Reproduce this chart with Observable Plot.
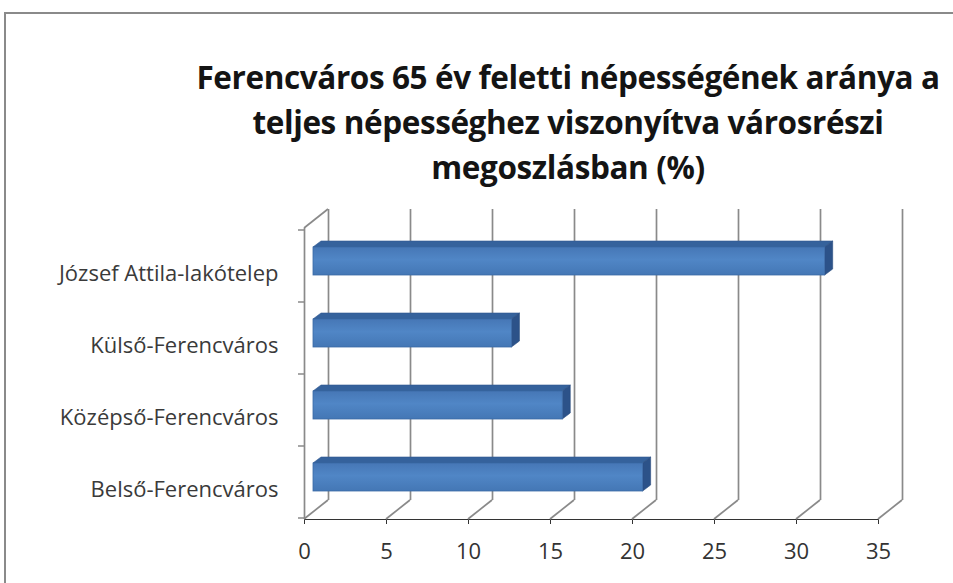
<!DOCTYPE html>
<html>
<head>
<meta charset="utf-8">
<script src="https://cdn.jsdelivr.net/npm/d3@7"></script>
<script src="https://cdn.jsdelivr.net/npm/@observablehq/plot@0.6"></script>
<style>
  html, body { margin: 0; padding: 0; background: #fff; }
  body { width: 953px; height: 583px; overflow: hidden; position: relative; font-family: "Open Sans", sans-serif; }
  #frame { position: absolute; left: 4px; top: 12px; width: 1000px; height: 700px;
           border-left: 2px solid #8a8a8a; border-top: 2px solid #8a8a8a; box-sizing: border-box; }
  #title { position: absolute; left: 168px; top: 54px; width: 800px; text-align: center;
           font-weight: bold; font-size: 31.5px; line-height: 45px; color: #141414; letter-spacing: -0.4px; }
  #chart { position: absolute; left: 0; top: 200px; }
</style>
</head>
<body>
<div id="frame"></div>
<div id="title"></div>
<div id="chart"></div>
<script>
// ---- data ----
const titleLines = [
  "Ferencváros 65 év feletti népességének aránya a",
  "teljes népességhez viszonyítva városrészi",
  "megoszlásban (%)"
];
const categories = ["József Attila-lakótelep", "Külső-Ferencváros", "Középső-Ferencváros", "Belső-Ferencváros"];
const values = [31.2, 12.1, 15.2, 20.1];
const xTicks = [0, 5, 10, 15, 20, 25, 30, 35];

document.getElementById("title").innerHTML = titleLines.map(t => `<div>${t}</div>`).join("");

const data = categories.map((c, i) => ({cat: c, value: values[i]}));

// 3D look offsets (px)
const DX = 24, DY = -19;   // wall depth
const BDX = 9, BDY = -5;   // bar depth position
const TDX = 8, TDY = -6;   // bar thickness
const INSET = 22;
const gridColor = "#8a8a8a";

function walls(index, scales, values, dims) {
  const {x, y} = scales;
  const g = d3.create("svg:g");
  const yb = dims.height - dims.marginBottom;
  const yt = dims.marginTop;
  for (const t of xTicks) {
    g.append("line").attr("x1", x(t)).attr("y1", yb).attr("x2", x(t) + DX).attr("y2", yb + DY)
      .attr("stroke", gridColor).attr("stroke-width", 1.7);
  }
  g.append("line").attr("x1", x(0)).attr("y1", yt).attr("x2", x(0) + DX).attr("y2", yt + DY)
    .attr("stroke", gridColor).attr("stroke-width", 1.7);
  const bw = y.bandwidth ? y.bandwidth() : 0;
  const bounds = categories.map(c => y(c)).concat([y(categories[categories.length - 1]) + bw]);
  for (const b of bounds) {
    g.append("line").attr("x1", x(0) - 6).attr("x2", x(0)).attr("y1", b).attr("y2", b)
      .attr("stroke", gridColor).attr("stroke-width", 1.5);
  }
  return g.node();
}

function barFaces(index, scales, values, dims) {
  const {x, y} = scales;
  const bw = y.bandwidth();
  const g = d3.create("svg:g");
  const defs = g.append("defs");
  const grad = defs.append("linearGradient").attr("id", "frontGrad").attr("x1", 0).attr("y1", 0).attr("x2", 0).attr("y2", 1);
  grad.append("stop").attr("offset", "0%").attr("stop-color", "#4677b6");
  grad.append("stop").attr("offset", "45%").attr("stop-color", "#5086c6");
  grad.append("stop").attr("offset", "100%").attr("stop-color", "#4477b5");
  for (const d of data) {
    const x0 = x(0) + BDX, x1 = x(d.value) + BDX;
    const top = y(d.cat) + INSET + BDY, bot = y(d.cat) + bw - INSET + BDY;
    g.append("polygon")
      .attr("points", [[x0, top], [x0 + TDX, top + TDY], [x1 + TDX, top + TDY], [x1, top]].map(p => p.join(",")).join(" "))
      .attr("fill", "#35629c").attr("stroke", "#2f5890").attr("stroke-width", 0.6);
    g.append("polygon")
      .attr("points", [[x1, top], [x1 + TDX, top + TDY], [x1 + TDX, bot + TDY], [x1, bot]].map(p => p.join(",")).join(" "))
      .attr("fill", "#2c5289").attr("stroke", "#284b7d").attr("stroke-width", 0.6);
  }
  return g.node();
}

const chart = Plot.plot({
  width: 953,
  height: 383,
  marginLeft: 304,
  marginRight: 75,
  marginTop: 28,
  marginBottom: 64,
  style: {fontFamily: "'Open Sans', sans-serif", fontSize: "22px", color: "#333", background: "transparent", overflow: "visible"},
  x: {domain: [0, 35], ticks: xTicks, tickSize: 5, tickPadding: 19, line: true, label: null},
  y: {domain: categories, padding: 0, axis: null},
  marks: [
    Plot.ruleX(xTicks, {x: d => d, dx: DX, dy: DY, stroke: gridColor, strokeWidth: 1.7}),
    walls,
    Plot.ruleX([0], {stroke: gridColor, strokeWidth: 1.7}),
    barFaces,
    Plot.barX(data, {x: "value", y: "cat", dx: BDX, dy: BDY, insetTop: INSET, insetBottom: INSET,
                     fill: "url(#frontGrad)", stroke: "#3b6aa6", strokeWidth: 0.8}),
    Plot.text(data, {x: () => 0, y: "cat", text: "cat", textAnchor: "end", dx: -26, dy: 7,
                     fill: "#3a3a3a", fontSize: 22})
  ]
});
document.getElementById("chart").appendChild(chart);
</script>
</body>
</html>
